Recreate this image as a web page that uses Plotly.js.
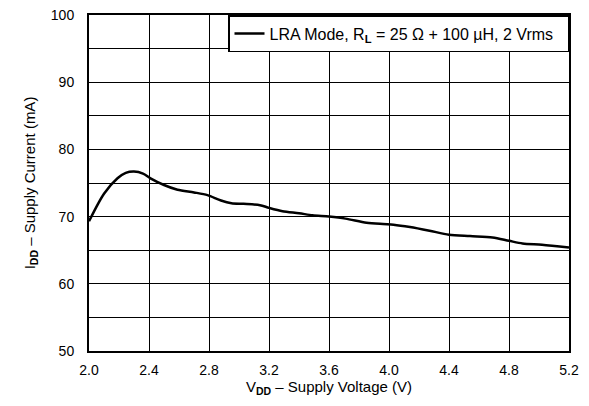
<!DOCTYPE html>
<html>
<head>
<meta charset="utf-8">
<script src="https://cdn.plot.ly/plotly-3.0.1.min.js"></script>
<style>html,body{margin:0;padding:0;background:#fff;}#chart{width:589px;height:406px;}</style>
</head>
<body>
<div id="chart"></div>
<script>
const voltage = [2.00, 2.10, 2.19, 2.245, 2.30, 2.36, 2.41, 2.50, 2.59, 2.70, 2.79, 2.88, 2.95, 3.03, 3.14, 3.20, 3.29, 3.40, 3.49, 3.60, 3.71, 3.85, 3.96, 4.03, 4.14, 4.27, 4.40, 4.54, 4.69, 4.80, 4.89, 5.02, 5.20];
const current = [69.3, 73.4, 75.7, 76.5, 76.7, 76.4, 75.7, 74.7, 74.0, 73.6, 73.2, 72.4, 72.0, 71.9, 71.7, 71.3, 70.8, 70.5, 70.2, 70.0, 69.7, 69.1, 68.9, 68.8, 68.45, 67.9, 67.3, 67.1, 66.9, 66.4, 66.0, 65.8, 65.4];
const seriesName = 'LRA Mode, R<sub><b>L</b></sub> = 25 Ω + 100 µH, 2 Vrms';
const xTicks = [2.0, 2.4, 2.8, 3.2, 3.6, 4.0, 4.4, 4.8, 5.2];
const xTickLabels = ['2.0', '2.4', '2.8', '3.2', '3.6', '4.0', '4.4', '4.8', '5.2'];
const yTicks = [50, 60, 70, 80, 90, 100];

const font = {family: 'Liberation Sans, Arial, sans-serif', size: 14, color: '#000'};

Plotly.newPlot('chart', [{
  x: voltage, y: current, type: 'scatter', mode: 'lines', name: seriesName,
  line: {color: '#000', width: 2.5, shape: 'spline', smoothing: 0.8}
}], {
  width: 589, height: 406,
  margin: {l: 89, r: 20, t: 15, b: 55},
  paper_bgcolor: '#fff', plot_bgcolor: '#fff',
  font: font,
  showlegend: true,
  legend: {x: 1, y: 1, xanchor: 'right', yanchor: 'top', bgcolor: '#fff',
           orientation: 'h', entrywidth: 293, entrywidthmode: 'pixels',
           bordercolor: '#000', borderwidth: 1.5, font: {size: 16},
           itemwidth: 30},
  xaxis: {
    range: [2.0, 5.2], tickvals: xTicks, ticktext: xTickLabels,
    showgrid: true, gridcolor: '#000', gridwidth: 1,
    showline: true, linecolor: '#000', linewidth: 2, mirror: true,
    ticks: '', ticklabelstandoff: 5, zeroline: false,
    title: {text: 'V<sub><b>DD</b></sub> – Supply Voltage (V)', standoff: 4, font: {size: 15}}
  },
  yaxis: {
    range: [50, 100], tickvals: yTicks,
    showgrid: true, gridcolor: '#000', gridwidth: 1,
    minor: {dtick: 5, tick0: 50, showgrid: true, gridcolor: '#000', gridwidth: 1},
    showline: true, linecolor: '#000', linewidth: 2, mirror: true,
    ticks: '', ticklabelstandoff: 10, zeroline: false,
    title: {text: 'I<sub><b>DD</b></sub> – Supply Current (mA)', standoff: 12, font: {size: 15}}
  }
}, {displayModeBar: false, staticPlot: true});
</script>
</body>
</html>
